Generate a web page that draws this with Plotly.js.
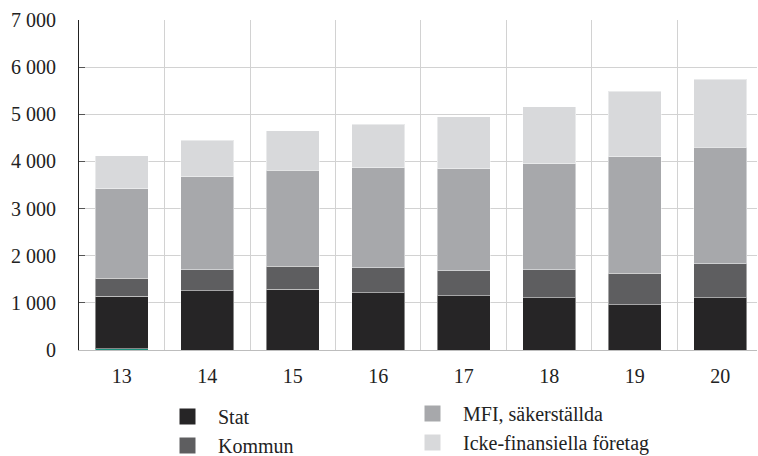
<!DOCTYPE html>
<html><head><meta charset="utf-8">
<script src="https://cdn.plot.ly/plotly-3.0.1.min.js"></script>
<style>html,body{margin:0;padding:0;background:#fff;}#chart{width:758px;height:456px;}</style>
</head><body><div id="chart"></div>
<script>
const categories = ["13","14","15","16","17","18","19","20"];
const ovrigt  = [30, 0, 0, 0, 0, 0, 0, 0];
const stat    = [1110, 1258, 1287, 1216, 1152, 1110, 961, 1110];
const kommun  = [380, 446, 488, 531, 531, 594, 666, 721];
const mfi     = [1900, 1966, 2043, 2114, 2164, 2249, 2474, 2475];
const icke    = [700, 778, 835, 927, 1096, 1202, 1393, 1435];
const yTicks  = [0, 1000, 2000, 3000, 4000, 5000, 6000, 7000];

const FONT = "Liberation Serif";
const COLORS = {stat: "#262526", kommun: "#5e5e60", mfi: "#a7a8ab", icke: "#d8d9db", ovrigt: "#1b8f7c"};
const edge = {color: "rgba(255,255,255,0.45)", width: 1};
function bar(name, y, color) {
  return {type: "bar", name: name, x: categories, y: y, showlegend: false,
    marker: {color: color, line: edge}, hoverinfo: "skip"};
}
// legend keys only (no data drawn)
function key(name, color, legend, group) {
  return {type: "scatter", mode: "markers", name: name, x: [null], y: [null], legend: legend,
    legendgroup: group, showlegend: true, marker: {symbol: "square", size: 18, color: color}, hoverinfo: "skip"};
}
const data = [
  bar("Övrigt", ovrigt, COLORS.ovrigt),
  bar("Stat", stat, COLORS.stat),
  bar("Kommun", kommun, COLORS.kommun),
  bar("MFI, säkerställda", mfi, COLORS.mfi),
  bar("Icke-finansiella företag", icke, COLORS.icke),
  key("Stat", COLORS.stat, "legend", "g1"),
  key("Kommun", COLORS.kommun, "legend", "g2"),
  key("MFI, säkerställda", COLORS.mfi, "legend2", "g3"),
  key("Icke-finansiella företag", COLORS.icke, "legend2", "g4")
];
const legendBase = {orientation: "v", xref: "container", yref: "container", xanchor: "left", yanchor: "top",
  font: {family: FONT, size: 20, color: "#222"}, bgcolor: "rgba(0,0,0,0)", tracegroupgap: 0,
  itemwidth: 51, itemsizing: "trace"};
const layout = {
  width: 758, height: 456,
  margin: {l: 79, r: 1, t: 20, b: 106, autoexpand: false},
  paper_bgcolor: "#fff", plot_bgcolor: "#fff",
  barmode: "stack", bargap: 0.38,
  separators: ", ",
  font: {family: FONT, size: 20, color: "#222"},
  xaxis: {type: "category", range: [-0.5, 7.43], tickson: "boundaries", showgrid: true,
    gridcolor: "#d2d2d2", gridwidth: 1, ticks: "", showline: true, linecolor: "#bdbdbd",
    tickangle: 0, automargin: false,
    tickfont: {family: FONT, size: 20, color: "#222"}, ticklabelstandoff: 8, fixedrange: true},
  yaxis: {range: [0, 7000], tickvals: yTicks, tickformat: ",d", showgrid: true, gridcolor: "#d2d2d2",
    zeroline: false, showline: true, linecolor: "#222", linewidth: 1, ticks: "inside", ticklen: 6,
    automargin: false,
    tickcolor: "#555", tickfont: {family: FONT, size: 20, color: "#222"}, ticklabelstandoff: 18, fixedrange: true},
  legend: Object.assign({}, legendBase, {x: 157/758, y: 1 - 397/456}),
  legend2: Object.assign({}, legendBase, {x: 402/758, y: 1 - 394/456}),
  showlegend: true
};
Plotly.newPlot("chart", data, layout, {displayModeBar: false, staticPlot: true});
</script></body></html>
